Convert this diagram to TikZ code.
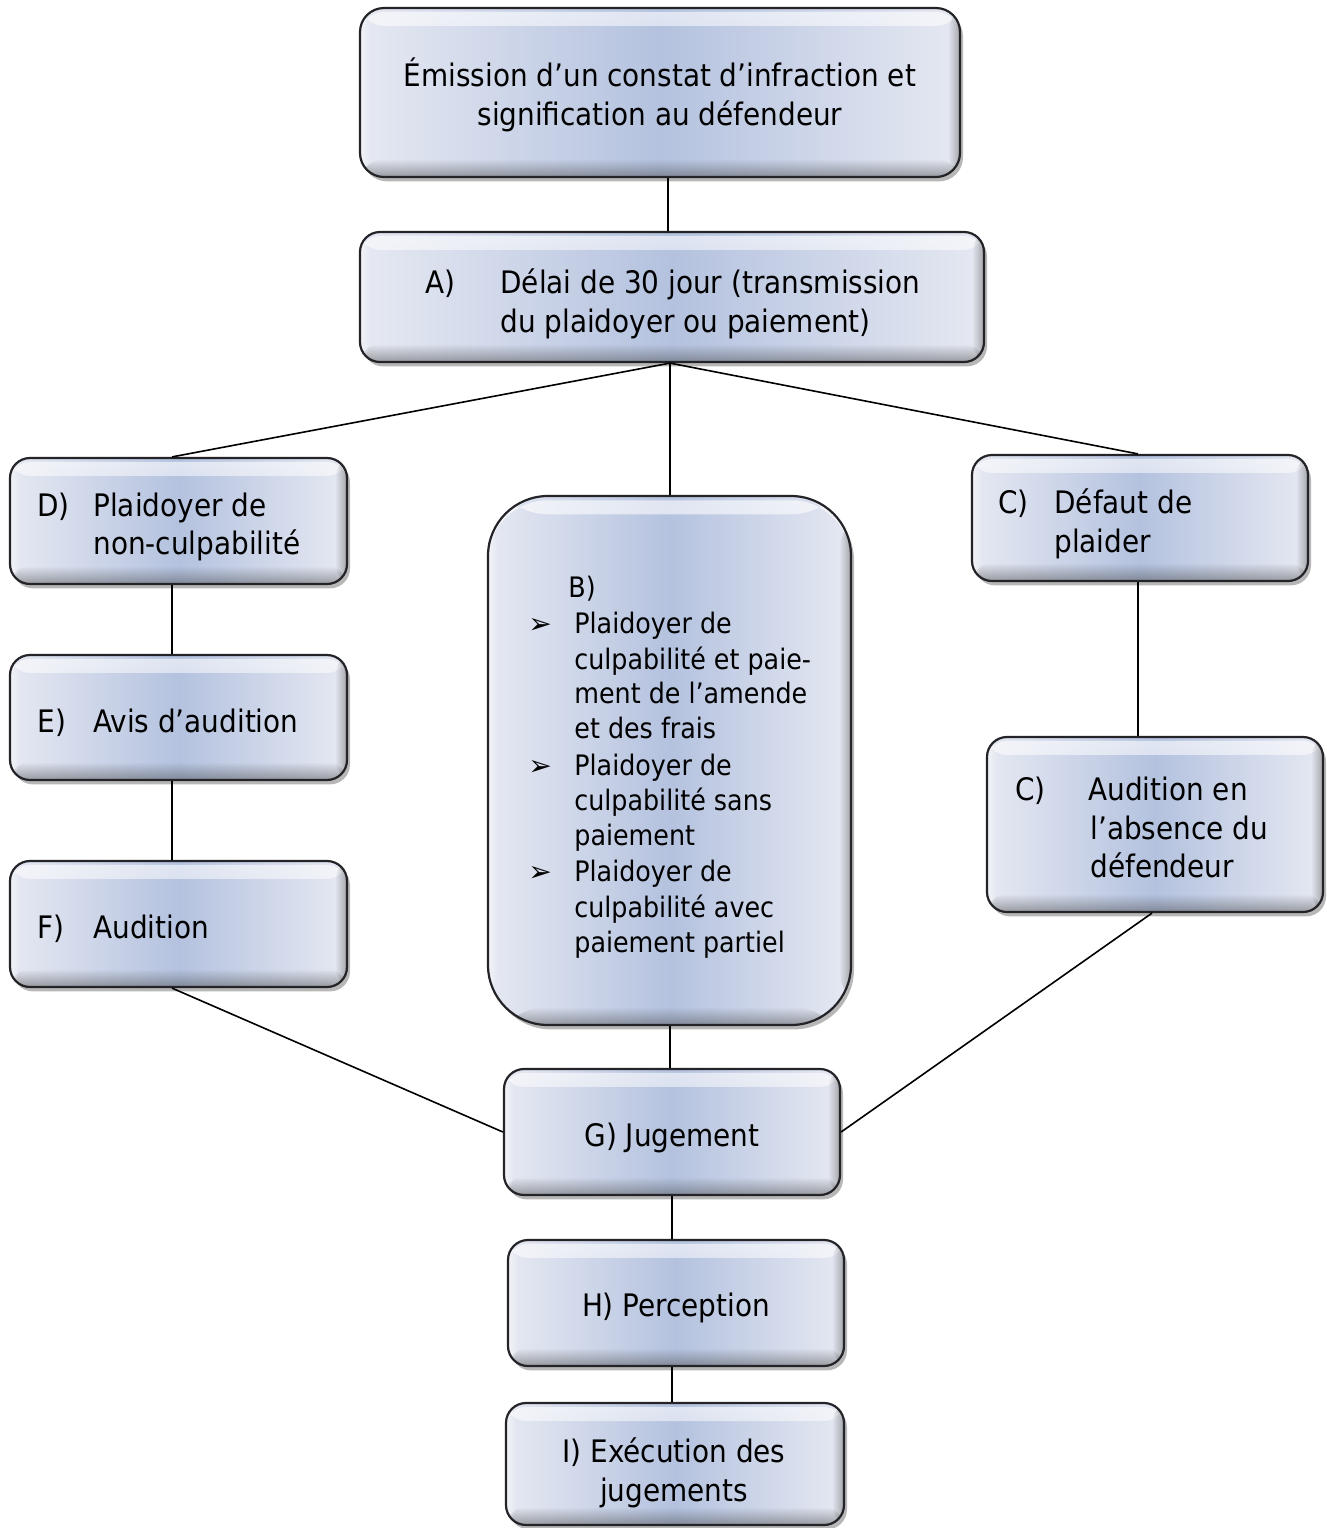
\documentclass[tikz,border=0pt]{standalone}
\usepackage{fontspec}
\setmainfont{DejaVu Sans Condensed}
\newfontfamily\symfont{DejaVu Sans}
\usetikzlibrary{shadows,fit,calc,fadings}
\definecolor{boxin}{RGB}{180,194,223}
\definecolor{boxout}{RGB}{230,233,242}
\definecolor{edge}{RGB}{35,35,40}
\newcommand\fsA{\fontsize{15.5}{19.5}\selectfont}
\newcommand\fsB{\fontsize{14.1}{17.8}\selectfont}
\begin{document}
\begin{tikzpicture}[x=0.5pt,y=-0.5pt,
  box/.style={rounded corners=10pt, draw=edge, line width=1.1pt,
    left color=boxout, right color=boxout, middle color=boxin, inner sep=0pt,
    drop shadow={shadow xshift=1.5pt, shadow yshift=-2.2pt, opacity=0.4, fill=black!70},
    path picture={
      \fill[white, opacity=0.6, path fading=south]
        ([yshift=-2pt]path picture bounding box.north west) rectangle ([yshift=-9pt]path picture bounding box.north east);
      \fill[black!75, opacity=0.45, path fading=north]
        ([yshift=9pt]path picture bounding box.south west) rectangle (path picture bounding box.south east);
      \fill[black!75, opacity=0.4, path fading=west]
        ([xshift=-6pt]path picture bounding box.north east) rectangle (path picture bounding box.south east);
      \fill[white, opacity=0.5, path fading=east]
        (path picture bounding box.north west) rectangle ([xshift=5pt]path picture bounding box.south west);
    }},
  link/.style={draw=black, line width=0.8pt},
  txt/.style={anchor=base west, inner sep=0pt, font=\fsA},
  ctxt/.style={anchor=base, inner sep=0pt, font=\fsA},
  btxt/.style={anchor=base west, inner sep=0pt, font=\fsB},
  bul/.style={anchor=base west, inner sep=0pt, font=\fsB\symfont}]
\useasboundingbox (0,0) rectangle (1327,1528);

% boxes
\node[box, rounded corners=12pt, fit={(360,8) (960,177)}] (T) {};
\node[box, fit={(360,232) (984,362)}] (A) {};
\node[box, fit={(10,458) (347,584)}] (D) {};
\node[box, rounded corners=30pt, fit={(488,496) (851,1025)}] (B) {};
\node[box, fit={(972,455) (1308,581)}] (C1) {};
\node[box, fit={(10,655) (347,780)}] (E) {};
\node[box, fit={(987,737) (1323,912)}] (C2) {};
\node[box, fit={(10,861) (347,987)}] (F) {};
\node[box, fit={(504,1069) (840,1195)}] (G) {};
\node[box, fit={(508,1240) (844,1366)}] (H) {};
\node[box, fit={(506,1403) (844,1525)}] (I) {};

% connector columns
\coordinate (xa) at (668,0);
\coordinate (xb) at (670,0);
\coordinate (xl) at (172,0);
\coordinate (xr) at (1138,0);
\coordinate (xc2) at (1152,0);
\coordinate (xg) at (672,0);

% connectors
\draw[link] (T.south -| xa) -- (A.north -| xa);
\draw[link] (A.south -| xb) -- (D.north -| xl);
\draw[link] (A.south -| xb) -- (C1.north -| xr);
\draw[link] (A.south -| xb) -- (B.north -| xb);
\draw[link] (D.south -| xl) -- (E.north -| xl);
\draw[link] (E.south -| xl) -- (F.north -| xl);
\draw[link] (C1.south -| xr) -- (C2.north -| xr);
\draw[link] (F.south -| xl) -- (G.west);
\draw[link] (B.south -| xb) -- (G.north -| xb);
\draw[link] (C2.south -| xc2) -- (G.east);
\draw[link] (G.south -| xg) -- (H.north -| xg);
\draw[link] (H.south -| xg) -- (I.north -| xg);

% texts
\node[ctxt] (t1) at (660,86) {Émission d’un constat d’infraction et};
\node[ctxt] (t2) at (660,125) {signification au défendeur};

\node[txt] (a0) at (425,293) {A)};
\node[txt] (a1) at (500,293) {Délai de 30 jour (transmission};
\node[txt] (a2) at (500,332) {du plaidoyer ou paiement)};

\node[txt] (d0) at (37,516) {D)};
\node[txt] (d1) at (93,516) {Plaidoyer de};
\node[txt] (d2) at (93,554) {non-culpabilité};

\node[txt] (c0) at (998,513) {C)};
\node[txt] (c1) at (1054,513) {Défaut de};
\node[txt] (c2) at (1054,552) {plaider};

\node[txt] (e0) at (37,732) {E)};
\node[txt] (e1) at (93,732) {Avis d’audition};

\node[txt] (f0) at (37,938) {F)};
\node[txt] (f1) at (93,938) {Audition};

\node[txt] (cc0) at (1015,800) {C)};
\node[txt] (cc1) at (1088,800) {Audition en};
\node[txt] (cc2) at (1090,839) {l’absence du};
\node[txt] (cc3) at (1090,877) {défendeur};

\node[btxt] (b0) at (568,597) {B)};
\node[bul] (bu1) at (528,633) {➢};
\node[bul] (bu2) at (528,775) {➢};
\node[bul] (bu3) at (528,881) {➢};
\node[btxt] (b1) at (574,633) {Plaidoyer de};
\node[btxt] (b2) at (574,669) {culpabilité et paie-};
\node[btxt] (b3) at (574,703) {ment de l’amende};
\node[btxt] (b4) at (574,738) {et des frais};
\node[btxt] (b5) at (574,775) {Plaidoyer de};
\node[btxt] (b6) at (574,810) {culpabilité sans};
\node[btxt] (b7) at (574,845) {paiement};
\node[btxt] (b8) at (574,881) {Plaidoyer de};
\node[btxt] (b9) at (574,917) {culpabilité avec};
\node[btxt] (b10) at (574,952) {paiement partiel};

\node[ctxt] (g1) at (672,1146) {G) Jugement};
\node[ctxt] (h1) at (676,1316) {H) Perception};
\node[ctxt] (i1) at (674,1462) {I) Exécution des};
\node[ctxt] (i2) at (674,1501) {jugements};
\end{tikzpicture}
\end{document}
